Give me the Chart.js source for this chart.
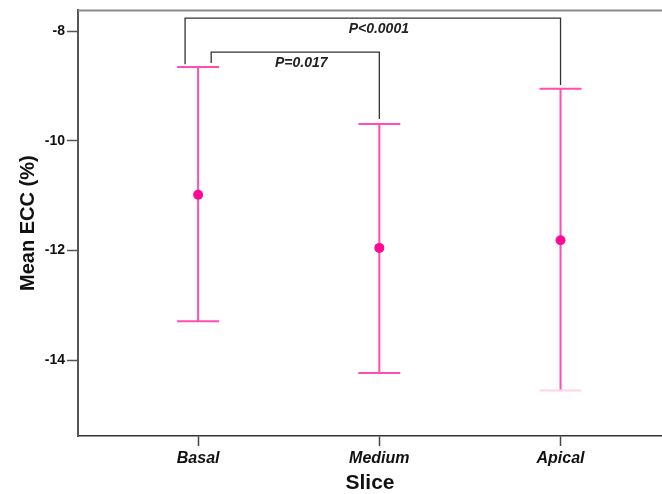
<!DOCTYPE html>
<html>
<head>
<meta charset="utf-8">
<script src="https://cdn.jsdelivr.net/npm/chart.js@4/dist/chart.umd.min.js"></script>
<style>
  body { margin: 0; background: #fff; }
  canvas { display: block; }
</style>
</head>
<body>
<canvas id="eccChart" width="662" height="494"></canvas>
<script>
// values
const slices = ['Basal', 'Medium', 'Apical']
const meanEcc = [-10.98, -11.95, -11.81]
const upperCi = [-8.65, -9.69, -9.05]
const lowerCi = [-13.29, -14.23, -14.55]
const yTicks = [-14, -12, -10, -8]

// significance brackets (data units)
const bracketLabels = ['P<0.0001', 'P=0.017']
const bracketFromX = [0.928, 1.072]
const bracketToX = [3, 2]
const bracketTopY = [-7.76, -8.38]
const bracketFromBottom = [-8.6, -8.58]
const bracketToBottom = [-8.98, -9.6]

const FONT = 'Arial, "Liberation Sans", sans-serif'
const PINK_LINE = '#ff4db3'
const PINK_DOT = '#ff0a96'

// error bars + frame + brackets
const extrasPlugin = {
  id: 'extras',
  beforeDatasetsDraw(chart) {
    const { ctx, chartArea, scales } = chart
    const xs = scales.x
    const ys = scales.y

    // top frame line
    ctx.save()
    ctx.strokeStyle = '#8a8a8a'
    ctx.lineWidth = 2
    ctx.beginPath()
    ctx.moveTo(chartArea.left, chartArea.top)
    ctx.lineTo(chartArea.right, chartArea.top)
    ctx.stroke()

    ctx.lineWidth = 2
    slices.forEach((s, i) => {
      const x = xs.getPixelForValue(i + 1)
      const yHi = ys.getPixelForValue(upperCi[i])
      const yLo = ys.getPixelForValue(lowerCi[i])
      ctx.strokeStyle = PINK_LINE
      ctx.beginPath()
      ctx.moveTo(x, yHi)
      ctx.lineTo(x, yLo)
      ctx.moveTo(x - 21, yHi)
      ctx.lineTo(x + 21, yHi)
      ctx.stroke()
      // the last lower cap is very faint in the original
      ctx.strokeStyle = i === slices.length - 1 ? '#ffd3ea' : PINK_LINE
      ctx.beginPath()
      ctx.moveTo(x - 21, yLo)
      ctx.lineTo(x + 21, yLo)
      ctx.stroke()
    })
    ctx.restore()
  },
  afterDatasetsDraw(chart) {
    const { ctx, scales } = chart
    const xs = scales.x
    const ys = scales.y
    ctx.save()
    ctx.strokeStyle = '#333'
    ctx.lineWidth = 1.3
    ctx.fillStyle = '#222'
    ctx.font = 'italic bold 14px ' + FONT
    ctx.textAlign = 'center'
    ctx.textBaseline = 'top'
    bracketLabels.forEach((label, i) => {
      const x1 = xs.getPixelForValue(bracketFromX[i])
      const x2 = xs.getPixelForValue(bracketToX[i])
      const yTop = ys.getPixelForValue(bracketTopY[i])
      ctx.beginPath()
      ctx.moveTo(x1, ys.getPixelForValue(bracketFromBottom[i]))
      ctx.lineTo(x1, yTop)
      ctx.lineTo(x2, yTop)
      ctx.lineTo(x2, ys.getPixelForValue(bracketToBottom[i]))
      ctx.stroke()
      ctx.fillText(label, (x1 + x2) / 2 + 6, yTop + 4)
    })
    ctx.restore()
  },
}

new Chart(document.getElementById('eccChart').getContext('2d'), {
  type: 'scatter',
  data: {
    datasets: [
      {
        label: 'Mean ECC',
        data: slices.map((s, i) => ({ x: i + 1, y: meanEcc[i] })),
        pointRadius: 5,
        pointHoverRadius: 5,
        backgroundColor: PINK_DOT,
        borderWidth: 0,
      },
    ],
  },
  options: {
    responsive: false,
    animation: false,
    layout: {
      // no point-overflow padding: the frame runs to the right edge
      autoPadding: false,
      padding: { top: 9, right: 0, left: 0, bottom: 0 },
    },
    plugins: {
      legend: { display: false },
      tooltip: { enabled: false },
    },
    scales: {
      x: {
        type: 'linear',
        min: 0.337,
        max: 3.56,
        afterBuildTicks: (scale) => {
          scale.ticks = slices.map((s, i) => ({ value: i + 1 }))
        },
        afterFit: (scale) => {
          scale.height = 58
        },
        ticks: {
          callback: (v) => slices[v - 1],
          color: '#111',
          padding: 3,
          maxRotation: 0,
          font: { family: FONT, size: 16, weight: 'bold', style: 'italic' },
        },
        grid: {
          drawOnChartArea: false,
          drawTicks: true,
          tickLength: 10,
          tickColor: '#444',
          tickWidth: 1.5,
        },
        border: { color: '#333', width: 1.5 },
        title: {
          display: true,
          text: 'Slice',
          color: '#111',
          padding: { top: 0, bottom: 0 },
          font: { family: FONT, size: 21, weight: 'bold', lineHeight: 1 },
        },
      },
      y: {
        min: -15.38,
        max: -7.62,
        afterBuildTicks: (scale) => {
          scale.ticks = yTicks.map((v) => ({ value: v }))
        },
        afterFit: (scale) => {
          scale.width = 78
        },
        ticks: {
          color: '#111',
          padding: 2,
          font: { family: FONT, size: 14, weight: 'bold' },
        },
        grid: {
          drawOnChartArea: false,
          drawTicks: true,
          tickLength: 11,
          tickColor: '#555',
          tickWidth: 1.5,
        },
        border: { color: '#555', width: 2 },
        title: {
          display: true,
          text: 'Mean ECC (%)',
          color: '#111',
          padding: { top: 18, bottom: 0 },
          font: { family: FONT, size: 20, weight: 'bold', lineHeight: 1 },
        },
      },
    },
  },
  plugins: [extrasPlugin],
})
</script>
</body>
</html>
